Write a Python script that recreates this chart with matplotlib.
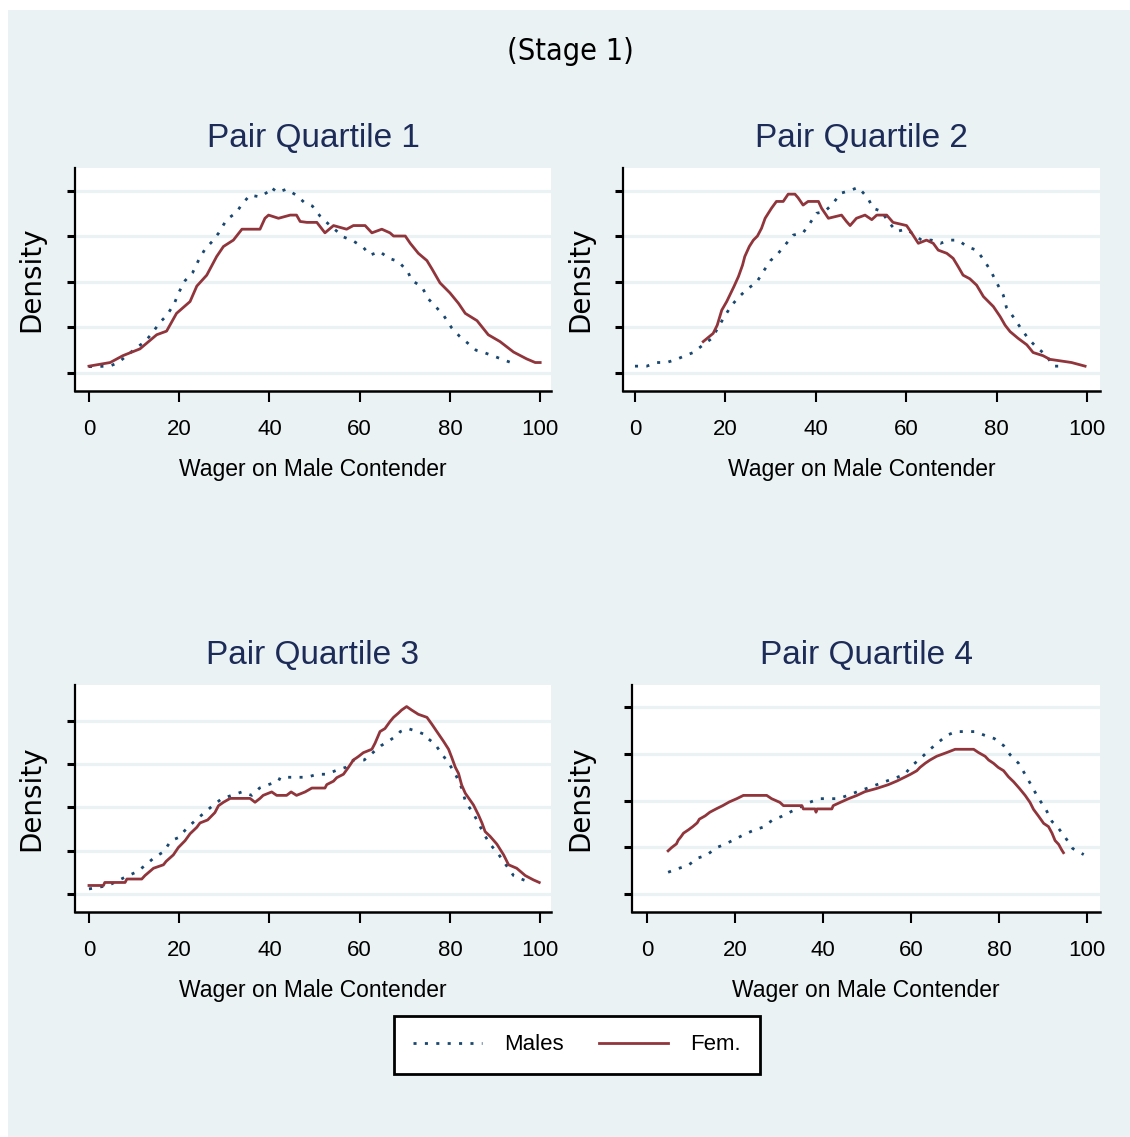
import matplotlib
matplotlib.use("Agg")
import matplotlib.pyplot as plt
from matplotlib.patches import Rectangle
from matplotlib.lines import Line2D

# kernel density curves (y in units of the unlabelled tick step)
q1_male_x = [0, 4.6, 6.5, 10.2, 12.4, 13.9, 15.7, 17.2, 18.9, 19.8, 21.3, 23, 24.2, 25.7, 27.4, 28.7,
             30.5, 32.7, 33.9, 35.7, 37.9, 39.8, 40.3, 41.8, 43.8, 45.9, 47.7, 49.5, 51.2, 52.9, 56.4,
             58.6, 60.8, 62.3, 64.4, 66.5, 68.6, 70.7, 71.5, 73.8, 75.2, 77.1, 78.7, 80.4, 82.1, 83.9,
             85.8, 87.8, 90, 92.1, 94.1]
q1_male_y = [0.14, 0.15, 0.23, 0.53, 0.69, 0.86, 1.11, 1.26, 1.52, 1.75, 2.03, 2.21, 2.46, 2.72, 2.90, 3.07,
             3.37, 3.53, 3.71, 3.91, 3.87, 3.99, 4.08, 3.97, 4.04, 3.91, 3.75, 3.67, 3.45, 3.29, 2.99,
             2.90, 2.76, 2.59, 2.67, 2.52, 2.45, 2.22, 2.04, 1.89, 1.63, 1.43, 1.25, 0.99, 0.81, 0.66,
             0.50, 0.44, 0.36, 0.28, 0.21]
q1_fem_x = [0, 4.7, 7.5, 11.3, 15, 17.2, 19.4, 22.4, 23.9, 26.1, 28.3, 29.8, 32, 33.9, 37.9, 39, 39.8,
            42, 44.6, 46, 46.8, 48.3, 50.5, 52.3, 54.2, 57.1, 58.6, 61.2, 62.7, 64.9, 66.7, 67.5, 70.1,
            71.2, 73, 74.9, 76, 77.8, 80, 81.9, 83.4, 86, 88.5, 91.1, 94.1, 97, 98.9, 100]
q1_fem_y = [0.15, 0.23, 0.38, 0.53, 0.84, 0.92, 1.31, 1.57, 1.91, 2.15, 2.56, 2.78, 2.92, 3.16, 3.16, 3.40, 3.47,
            3.40, 3.47, 3.47, 3.33, 3.31, 3.31, 3.08, 3.24, 3.16, 3.24, 3.24, 3.08, 3.16, 3.08, 3.01, 3.01,
            2.85, 2.63, 2.47, 2.29, 1.98, 1.76, 1.53, 1.31, 1.15, 0.84, 0.69, 0.46, 0.31, 0.23, 0.23]

q2_male_x = [0, 2.6, 4.8, 7, 9.2, 11.1, 12.9, 15.1, 17, 19.8, 21.4, 23.2, 24.9, 26.9, 28.4, 30, 31.7,
             33.2, 35, 37.2, 38.7, 40.2, 42, 43.7, 45.5, 47.6, 49.4, 51.5, 52.7, 54.6, 56, 57.9, 60,
             61.2, 63.4, 65.6, 67.6, 69.5, 71.5, 73.6, 75.6, 77.3, 78.8, 80, 81.5, 82.2, 83.8, 85.4,
             87, 88.7, 91.1, 92.5, 94.4]
q2_male_y = [0.15, 0.15, 0.23, 0.23, 0.30, 0.38, 0.45, 0.62, 0.76, 1.24, 1.49, 1.69, 1.85, 1.99, 2.23, 2.47, 2.63,
             2.81, 3.03, 3.08, 3.29, 3.51, 3.55, 3.71, 3.95, 4.01, 4.08, 3.85, 3.62, 3.55, 3.33, 3.11, 3.16,
             3.08, 2.92, 2.92, 2.85, 2.92, 2.92, 2.77, 2.70, 2.47, 2.23, 1.99, 1.71, 1.44, 1.22, 0.98,
             0.76, 0.58, 0.38, 0.15, 0.15]
q2_fem_x = [15.1, 17.3, 18.2, 19.2, 20.3, 21.9, 22.9, 23.8, 24.3, 25.3, 26.2, 27.1, 28, 28.8, 30.2, 31.3,
            32.8, 33.9, 35.4, 36.1, 37.2, 38.3, 40.6, 41.3, 42.8, 45.7, 46.8, 47.6, 49, 50.9, 52.4, 53.5,
            55.7, 57.1, 60.1, 61.2, 62.7, 64.5, 66, 67.1, 69, 70.4, 71.5, 72.6, 74.1, 75.6, 77.1, 77.8,
            79.3, 80.8, 81.9, 83, 84.8, 86.7, 88.1, 90.3, 91.8, 96.6, 99.6]
q2_fem_y = [0.69, 0.87, 1.05, 1.38, 1.57, 1.90, 2.12, 2.37, 2.56, 2.78, 2.92, 3.01, 3.18, 3.40, 3.62, 3.77,
            3.77, 3.93, 3.93, 3.85, 3.69, 3.77, 3.77, 3.62, 3.40, 3.47, 3.33, 3.24, 3.40, 3.47, 3.37, 3.47,
            3.47, 3.31, 3.24, 3.08, 2.85, 2.92, 2.85, 2.70, 2.63, 2.52, 2.34, 2.15, 2.07, 1.93, 1.68, 1.61,
            1.46, 1.24, 1.05, 0.91, 0.76, 0.62, 0.45, 0.38, 0.30, 0.23, 0.15]

q3_male_x = [0, 4.3, 8.7, 10.7, 12.6, 14.5, 16.5, 18.2, 19.8, 21.9, 23.7, 25.6, 27.4, 29.4, 31.6, 33.9,
             36.1, 37.8, 39.8, 42, 42.4, 44.2, 46.3, 48.3, 50.6, 52.7, 54.8, 56.9, 58.6, 61, 62.9, 64.7,
             66.7, 68.4, 69, 70.7, 72.8, 74.7, 75.1, 76.7, 78.2, 79.8, 81.4, 82.6, 83.5, 85.1, 86.3,
             87.6, 88.9, 90.8, 92.4, 94.1, 96.3, 98]
q3_male_y = [0.11, 0.19, 0.42, 0.51, 0.67, 0.84, 0.97, 1.23, 1.30, 1.54, 1.71, 1.88, 2.04, 2.20, 2.28, 2.36,
             2.28, 2.45, 2.53, 2.61, 2.70, 2.70, 2.70, 2.70, 2.77, 2.77, 2.86, 2.93, 3.10, 3.10, 3.27, 3.43,
             3.56, 3.68, 3.76, 3.83, 3.76, 3.68, 3.60, 3.47, 3.24, 3.02, 2.73, 2.45, 2.12, 1.88, 1.64,
             1.37, 1.15, 0.91, 0.67, 0.42, 0.32, 0.26]
q3_fem_x = [0, 3.2, 3.5, 8, 8.4, 11.7, 12.4, 14.3, 16.5, 17.1, 18.7, 19.8, 21.3, 22.4, 23.9, 24.6, 26.3,
            27.9, 28.7, 29.8, 31.3, 35.7, 36.8, 37.9, 38.6, 40.5, 41.6, 43.8, 44.8, 46, 47.9, 49.4, 52.3,
            52.7, 54.2, 54.9, 56.4, 57.5, 58.6, 59.7, 60.8, 62.7, 63.4, 64.5, 65.6, 66.7, 67.5, 68.6,
            69.3, 70.4, 71.5, 73, 74.9, 76, 77.1, 78.6, 79.7, 80.4, 81.2, 81.9, 82.6, 83.4, 85.2, 86.3,
            87.1, 87.8, 88.9, 90.4, 91.9, 93, 94.8, 96.7, 98.5, 99.8]
q3_fem_y = [0.19, 0.19, 0.26, 0.26, 0.34, 0.34, 0.42, 0.59, 0.67, 0.75, 0.90, 1.07, 1.23, 1.39, 1.54, 1.64, 1.71,
            1.88, 2.04, 2.12, 2.21, 2.21, 2.12, 2.21, 2.28, 2.36, 2.28, 2.28, 2.36, 2.28, 2.36, 2.45, 2.45,
            2.53, 2.61, 2.69, 2.77, 2.93, 3.10, 3.18, 3.27, 3.35, 3.49, 3.76, 3.83, 3.99, 4.09, 4.19,
            4.26, 4.34, 4.26, 4.16, 4.09, 3.93, 3.76, 3.53, 3.35, 3.16, 2.93, 2.79, 2.52, 2.33, 2.06, 1.83,
            1.64, 1.44, 1.33, 1.15, 0.90, 0.67, 0.59, 0.42, 0.32, 0.26]

q4_male_x = [4.8, 7.1, 9.4, 11.4, 13.6, 15.8, 17.7, 20, 22.3, 24.2, 26.4, 28.5, 30.6, 32.9, 36.9, 39.2,
             41.4, 43.5, 45.6, 47.8, 49.9, 52.2, 54.2, 56.6, 58.5, 60.3, 62, 64.3, 66.2, 68.1, 70.2,
             72.3, 74.5, 76.7, 78.9, 81, 82.5, 84.4, 85.9, 87.4, 88.9, 90.5, 92, 93.5, 95, 96.7, 99.2]
q4_male_y = [0.46, 0.54, 0.61, 0.76, 0.83, 0.99, 1.06, 1.17, 1.28, 1.36, 1.43, 1.58, 1.66, 1.77, 1.96, 2.04,
             2.04, 2.04, 2.11, 2.19, 2.26, 2.34, 2.41, 2.49, 2.56, 2.76, 2.89, 3.10, 3.25, 3.40, 3.48,
             3.48, 3.48, 3.40, 3.33, 3.18, 2.98, 2.80, 2.56, 2.31, 2.05, 1.83, 1.55, 1.40, 1.21, 0.97, 0.84]
q4_fem_x = [4.8, 5.6, 6.7, 7.1, 7.7, 8.3, 9.4, 10.4, 11.4, 11.9, 13.2, 14.3, 15.7, 17.2, 18.7, 20.4, 21.9,
            27.2, 28.3, 30.2, 31, 35.2, 35.5, 38.2, 38.4, 38.6, 42, 42.3, 43.9, 45.8, 47.7, 49.5, 52.2,
            54.8, 56.8, 58.3, 59.8, 61.3, 62, 63.2, 64.3, 65.8, 68.1, 70, 74.2, 75.3, 76.8, 77.6, 78.7,
            79.8, 81, 82.1, 83.3, 84.6, 85.9, 87, 87.8, 88.9, 90.1, 91.2, 92, 92.7, 93.5, 94.2, 94.6]
q4_fem_y = [0.92, 0.99, 1.07, 1.15, 1.22, 1.30, 1.37, 1.44, 1.52, 1.60, 1.67, 1.75, 1.82, 1.89, 1.97, 2.04, 2.11,
            2.11, 2.04, 1.96, 1.89, 1.89, 1.82, 1.82, 1.75, 1.82, 1.82, 1.89, 1.96, 2.04, 2.11, 2.19, 2.26,
            2.34, 2.42, 2.49, 2.56, 2.64, 2.71, 2.80, 2.87, 2.95, 3.03, 3.10, 3.10, 3.03, 2.95, 2.87, 2.80,
            2.71, 2.64, 2.51, 2.40, 2.26, 2.11, 1.96, 1.81, 1.67, 1.51, 1.44, 1.30, 1.14, 1.06, 0.94, 0.88]

titles = ["Pair Quartile 1", "Pair Quartile 2", "Pair Quartile 3", "Pair Quartile 4"]
x_ticks = [0, 20, 40, 60, 80, 100]
y_ticks = [0, 1, 2, 3, 4]
series_labels = ["Males", "Fem."]

BG = "#eaf2f3"
NAVY = "#1a476f"
MAROON = "#90353b"
TITLE = "#1c2b58"
FONT = "Liberation Sans"
BLUE_DASH = (0, (1.1, 3.0))

W, H = 1130, 1137
fig = plt.figure(figsize=(W / 100, H / 100), dpi=100)
fig.patch.set_facecolor("white")
fig.patches.append(Rectangle((8 / W, 0), 1 - 8 / W, 1 - 10 / H, transform=fig.transFigure,
                             facecolor=BG, edgecolor="none", zorder=-10))


def box(l, t, r, b):
    return [l / W, 1 - b / H, (r - l) / W, (b - t) / H]


panels = [
    (box(75, 168, 551, 391), (-3.1, 102.4), (-0.396, 4.505), q1_male_x, q1_male_y, q1_fem_x, q1_fem_y, -0.063),
    (box(623, 168, 1100, 391), (-2.65, 102.9), (-0.396, 4.505), q2_male_x, q2_male_y, q2_fem_x, q2_fem_y, -0.061),
    (box(75, 685, 551, 912), (-3.1, 102.4), (-0.425, 4.84), q3_male_x, q3_male_y, q3_fem_x, q3_fem_y, -0.063),
    (box(632, 685, 1100, 912), (-3.4, 102.9), (-0.393, 4.48), q4_male_x, q4_male_y, q4_fem_x, q4_fem_y, -0.081),
]

for (rect, xl, yl, mx, my, fx, fy, lab_x), title in zip(panels, titles):
    ax = fig.add_axes(rect)
    ax.set_facecolor("white")
    ax.plot(mx, my, color=NAVY, lw=2.0, linestyle=BLUE_DASH, dash_capstyle="butt")
    ax.plot(fx, fy, color=MAROON, lw=2.0)
    ax.set_xlim(*xl)
    ax.set_ylim(*yl)
    ax.set_xticks(x_ticks)
    ax.set_xticklabels([str(v) for v in x_ticks], family=FONT, fontsize=16)
    ax.set_yticks(y_ticks)
    ax.set_yticklabels([])
    ax.grid(axis="y", color=BG, lw=2.3)
    ax.set_axisbelow(True)
    for s in ("top", "right"):
        ax.spines[s].set_visible(False)
    ax.spines["left"].set_linewidth(1.6)
    ax.spines["bottom"].set_linewidth(1.8)
    ax.tick_params(axis="y", length=6, width=2.2, color="black")
    ax.tick_params(axis="x", length=8, width=1.5, pad=12, color="black")
    ax.set_xlabel("Wager on Male Contender", family=FONT, fontsize=16.5, labelpad=13)
    ax.set_ylabel("Density", family="DejaVu Sans", fontsize=20)
    ax.yaxis.set_label_coords(lab_x, 0.5)
    ax.set_title(title, family=FONT, fontsize=24, color=TITLE, pad=15)

fig.text(570 / W, 1 - 60 / H, "(Stage 1)", family="DejaVu Sans", fontstretch="condensed",
         fontsize=22, ha="center", va="baseline")

handles = [Line2D([], [], color=NAVY, lw=2.0, linestyle=BLUE_DASH),
           Line2D([], [], color=MAROON, lw=2.0)]
leg = fig.legend(handles, series_labels, loc="center", bbox_to_anchor=(577 / W, 1 - 1045 / H), ncol=2,
                 frameon=True, fancybox=False, edgecolor="black", facecolor="white", framealpha=1,
                 prop={"family": FONT, "size": 16}, handlelength=3.1, handletextpad=1.0,
                 columnspacing=1.6, borderpad=0.85, borderaxespad=0)
leg.get_frame().set_linewidth(2.0)

fig.savefig("out.png", dpi=100)
